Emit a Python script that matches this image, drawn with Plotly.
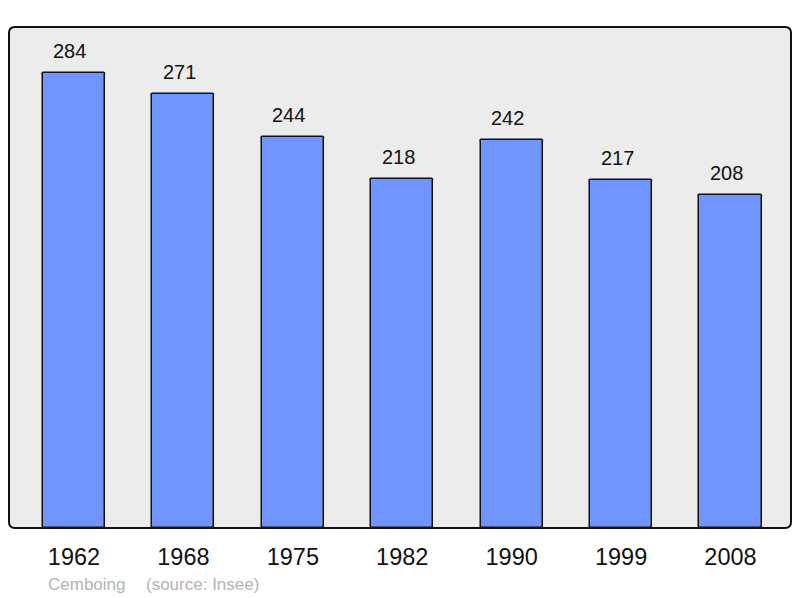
import plotly.graph_objects as go

years = ["1962", "1968", "1975", "1982", "1990", "1999", "2008"]
population = [284, 271, 244, 218, 242, 217, 208]
commune_name = "Cemboing"
source_text = "(source: Insee)"

W, H = 800, 598
ml, mr, mt, mb = 9, 9, 27, 70
pw, ph = W - ml - mr, H - mt - mb

fig = go.Figure()
fig.add_trace(go.Bar(
    x=years, y=population, width=0.567,
    marker=dict(color="#7095ff", line=dict(color="#111111", width=1.5), cornerradius=2),
    hoverinfo="x+y",
))

for i, v in enumerate(population):
    fig.add_annotation(x=i, y=v, text=str(v), showarrow=False, yanchor="middle",
                       yshift=22, xshift=-4, font=dict(size=20, color="#111111"))

fig.add_annotation(xref="paper", yref="paper", x=(46 - ml) / pw, y=0, yshift=-56,
                   xanchor="left", yanchor="middle", text=commune_name, showarrow=False,
                   font=dict(size=17, color="#b3b3b3"))
fig.add_annotation(xref="paper", yref="paper", x=(144 - ml) / pw, y=0, yshift=-56,
                   xanchor="left", yanchor="middle", text=source_text, showarrow=False,
                   font=dict(size=17, color="#b3b3b3"))

# rounded border
rx, ry = 6 / pw, 6 / ph
path = (f"M {rx},0 L {1-rx},0 Q 1,0 1,{ry} L 1,{1-ry} Q 1,1 {1-rx},1 "
        f"L {rx},1 Q 0,1 0,{1-ry} L 0,{ry} Q 0,0 {rx},0 Z")
fig.add_shape(type="path", xref="paper", yref="paper", path=path,
              line=dict(color="#111111", width=2), layer="above")

fig.update_layout(
    width=W, height=H,
    margin=dict(l=ml, r=mr, t=mt, b=mb),
    paper_bgcolor="white", plot_bgcolor="#ececec",
    font=dict(family="Liberation Sans, Arial, sans-serif"),
    showlegend=False,
    bargap=0,
)
fig.update_xaxes(type="category", range=[-0.594, 6.553], showgrid=False, zeroline=False,
                 ticks="outside", ticklen=8, tickcolor="rgba(0,0,0,0)",
                 tickfont=dict(size=23.5, color="#111111"), showline=False)
fig.update_yaxes(range=[0, 312.7], showgrid=False, zeroline=False, showticklabels=False,
                 showline=False)

fig.write_html("out.html", config={"displayModeBar": False},
               post_script="document.body.style.margin='0';document.body.style.padding='0';document.body.style.overflow='hidden';")
